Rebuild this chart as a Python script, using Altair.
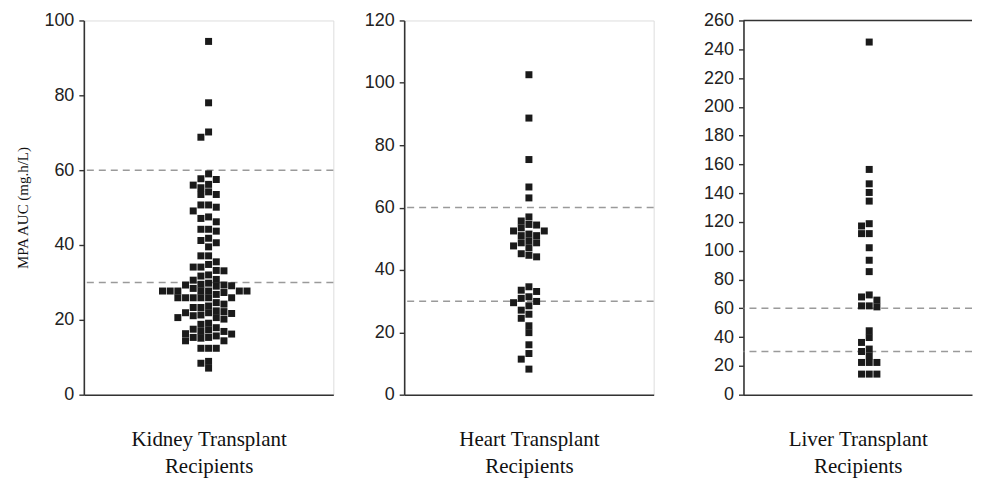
import altair as alt
import pandas as pd

# ---- data (MPA AUC, mg.h/L) ----
kidney = [94.4, 78.0, 68.8, 70.2,
          59.0, 57.5, 57.7, 56.2, 56.0, 55.3, 53.5, 53.5, 54.2,
          50.7, 50.1, 50.7, 49.1, 47.5, 46.2, 47.1,
          43.7, 44.2, 44.2, 41.2, 41.8, 40.6, 39.5,
          37.1, 37.1, 34.8, 34.1, 34.1, 35.5, 33.2, 33.1,
          30.8, 32.0, 31.7, 29.1, 28.4,
          29.8, 29.5, 29.3, 29.3, 30.6, 29.0,
          27.7, 27.7, 27.7, 27.7, 27.7, 27.7, 27.7,
          25.9, 25.9, 25.9, 25.9, 25.9, 25.9, 26.8, 27.3,
          24.6, 23.3, 23.3, 23.7, 24.2,
          22.2, 21.3, 21.9, 21.9, 21.1, 22.4, 21.7,
          20.2, 20.6, 20.6, 18.8, 19.1,
          17.5, 16.9, 16.9, 17.3, 17.9, 16.2, 15.7, 16.3,
          14.4, 15.3, 14.4, 15.1, 15.3,
          12.4, 12.4, 12.4, 8.9, 8.4, 7.1]

heart = [102.6, 88.7, 75.4, 66.6, 63.1, 57.0, 55.7, 54.4, 54.6, 53.5,
         52.5, 52.5, 51.0, 51.0, 51.5, 49.3, 48.7, 47.7, 48.7, 47.1,
         45.2, 44.2, 44.7, 34.6, 33.5, 33.1, 31.4, 30.9, 29.5, 29.9,
         28.5, 27.1, 25.8, 24.5, 22.1, 19.9, 16.0, 13.2, 11.4, 8.2]

liver = [245.0, 156.5, 146.5, 140.5, 134.5, 118.8, 117.2, 111.9, 111.9,
         102.1, 93.4, 85.5, 69.3, 67.9, 65.7, 61.7, 61.0, 61.7,
         44.4, 39.7, 36.3, 31.7, 30.0, 27.0, 22.4, 22.4, 22.4,
         14.3, 14.3, 14.3]

ref_levels = [30, 60]
panel_names = [["Kidney Transplant", "Recipients"],
               ["Heart Transplant", "Recipients"],
               ["Liver Transplant", "Recipients"]]
y_max = [100, 120, 260]

PLOT_H = 375
STEP = 7.7      # horizontal spacing between swarm columns (px)
GAP = 6.6       # minimal vertical distance in one column (px)


def swarm(values, ymax):
    """Simple greedy beeswarm: offsets in pixels computed from the values."""
    ppu = PLOT_H / ymax
    order = sorted(range(len(values)), key=lambda i: -values[i])
    placed = []
    xs = [0.0] * len(values)
    cands = [0]
    for j in range(1, 25):
        cands += [-j, j]
    for i in order:
        y = values[i] * ppu
        for c in cands:
            x = c * STEP
            if all(abs(x - px) > 1 or abs(y - py) >= GAP for px, py in placed):
                break
        placed.append((x, y))
        xs[i] = x
    return xs


AX = dict(domainColor="#333333", domainWidth=1.6, tickColor="#333333",
          tickWidth=1.4, tickSize=5, labelFont="Liberation Sans",
          labelFontSize=18, labelColor="#222222", labelPadding=5, grid=False)


def panel(values, ymax, title_lines, width, xdom, ytitle=None, min_ext=0, box=True):
    df = pd.DataFrame({"value": values, "offset": swarm(values, ymax)})
    yaxis_kw = dict(values=list(range(0, ymax + 1, 20)), **AX)
    if ytitle:
        yaxis_kw.update(title=ytitle, titleFont="Liberation Serif",
                        titleFontSize=15, titleFontWeight="normal",
                        titleColor="#111111", titlePadding=13)
    else:
        yaxis_kw.update(title=None)
    if min_ext:
        yaxis_kw.update(minExtent=min_ext)
    yenc = alt.Y("value:Q", scale=alt.Scale(domain=[0, ymax], nice=False),
                 axis=alt.Axis(**yaxis_kw))
    xenc = alt.X("offset:Q", scale=alt.Scale(domain=xdom, nice=False, zero=False),
                 axis=alt.Axis(title=title_lines, labels=False, ticks=False,
                               domain=True, domainColor="#333333", domainWidth=1.6,
                               grid=False, titleFont="Liberation Serif",
                               titleFontSize=21, titleFontWeight="normal",
                               titleColor="#111111", titlePadding=34,
                               titleLineHeight=27))
    rules = alt.Chart(pd.DataFrame({"value": ref_levels})).mark_rule(
        color="#9a9a9a", strokeDash=[7, 5], strokeWidth=1.5).encode(y=yenc)
    pts = alt.Chart(df).mark_square(size=49, color="#1a1a1a", opacity=1).encode(
        x=xenc, y=yenc)
    layers = [rules, pts]
    if not box:
        top = alt.Chart(pd.DataFrame({"value": [ymax]})).mark_rule(
            color="#333333", strokeWidth=1.6).encode(
            y=alt.value(0), x=alt.value(0), x2=alt.value(width))
        layers.append(top)
    ch = alt.layer(*layers).properties(width=width, height=PLOT_H)
    if not box:
        ch = ch.properties(view=alt.ViewBackground(stroke="transparent"))
    return ch


p1 = panel(kidney, y_max[0], panel_names[0], 250, [-125, 125], ytitle="MPA AUC (mg.h/L)")
p2 = panel(heart, y_max[1], panel_names[1], 250, [-125, 125])
p3 = panel(liver, y_max[2], panel_names[2], 229, [-126, 103], min_ext=59, box=False)

chart = alt.hconcat(p1, p2, p3, spacing=28).properties(
    padding={"left": 7, "top": 2, "right": 0, "bottom": 0}
).configure_view(stroke="#333333", strokeWidth=1.6).configure(background="white")

chart.save("out.html", embed_options={"renderer": "svg", "actions": False})
